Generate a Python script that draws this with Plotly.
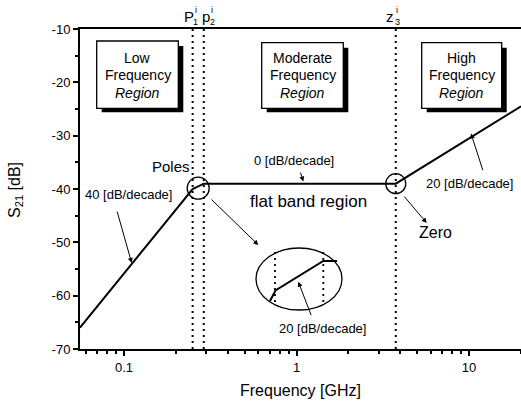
import math
import plotly.graph_objects as go

# ---- data ----
freq_ghz = [0.0556, 0.25, 0.29, 3.76, 20.0]
s21_db = [-66.0, -40.0, -39.0, -39.0, -24.5]
pole1_ghz = 0.25
pole2_ghz = 0.29
zero3_ghz = 3.76
flat_db = -39.0
x_tickvals = [0.1, 1, 10]
x_ticktext = ["0.1", "1", "10"]
y_tickvals = [-10, -20, -30, -40, -50, -60, -70]
y_ticktext = ["-10", "-20", "-30", "-40", "-50", "-60", "-70"]
region_labels = [["Low", "Frequency", "Region"],
                 ["Moderate", "Frequency", "Region"],
                 ["High", "Frequency", "Region"]]

FONT = "Liberation Sans, Arial, sans-serif"
W, H = 521, 401
ML, MR, MT, MB = 80, 0, 29, 52
PW, PH = W - ML - MR, H - MT - MB
XR = [math.log10(0.0556), math.log10(20)]
YR = [-70, -10]


def P(px, py):
    """reference pixel -> paper coords"""
    return (px - ML) / PW, (H - MB - py) / PH


def D(xd, yd):
    """data -> pixel"""
    px = ML + (math.log10(xd) - XR[0]) / (XR[1] - XR[0]) * PW
    py = H - MB - (yd - YR[0]) / (YR[1] - YR[0]) * PH
    return px, py


fig = go.Figure()
fig.add_trace(go.Scatter(x=freq_ghz, y=s21_db, mode="lines",
                         line=dict(color="black", width=2), showlegend=False,
                         hoverinfo="skip"))

shapes = []
annotations = []

# dotted vertical lines at poles / zero
for xv in (pole1_ghz, pole2_ghz, zero3_ghz):
    shapes.append(dict(type="line", xref="x", yref="y", x0=xv, x1=xv, y0=-70, y1=-10,
                       line=dict(color="black", width=2, dash="2px,4px")))


def circle(cx, cy, rx, ry, lw=1.3):
    x0, y0 = P(cx - rx, cy + ry)
    x1, y1 = P(cx + rx, cy - ry)
    shapes.append(dict(type="circle", xref="paper", yref="paper", x0=x0, x1=x1, y0=y0, y1=y1,
                       line=dict(color="black", width=lw)))


# small circles around poles and zero
pcx, pcy = D(math.sqrt(pole1_ghz * pole2_ghz), flat_db)
circle(pcx, pcy + 4.5, 11, 11)
zcx, zcy = D(zero3_ghz, flat_db)
circle(zcx, zcy, 10, 10)

# region boxes with shadows
boxes = [(96.7, 41, 178.3, 108.3), (261.7, 42.7, 343.3, 108.3), (421.7, 42.7, 501.7, 108.3)]
for (bx0, by0, bx1, by1), lines in zip(boxes, region_labels):
    sx0, sy0 = P(bx0 + 5, by0 + 5)
    sx1, sy1 = P(bx1 + 5, by1 + 4)
    shapes.append(dict(type="rect", xref="paper", yref="paper", x0=sx0, x1=sx1, y0=sy1, y1=sy0,
                       fillcolor="black", line=dict(width=0)))
    px0, py0 = P(bx0, by0)
    px1, py1 = P(bx1, by1)
    shapes.append(dict(type="rect", xref="paper", yref="paper", x0=px0, x1=px1, y0=py1, y1=py0,
                       fillcolor="white", line=dict(color="black", width=1.3)))
    cx = (bx0 + bx1) / 2
    for ly, t in zip((57.5, 75.5, 92.5), (lines[0], lines[1], "<i>" + lines[2] + "</i>")):
        ax_, ay_ = P(cx, ly)
        annotations.append(dict(xref="paper", yref="paper", x=ax_, y=ay_, text=t, showarrow=False,
                                xanchor="center", yanchor="middle",
                                font=dict(family=FONT, size=14, color="black")))

# inset ellipse (zoom of the pole region)
circle(299, 279, 43, 31)
for dx in (275, 323.3):
    a0x, a0y = P(dx, 252)
    a1x, a1y = P(dx, 304)
    shapes.append(dict(type="line", xref="paper", yref="paper", x0=a0x, x1=a1x, y0=a0y, y1=a1y,
                       line=dict(color="black", width=1.8, dash="2px,4px")))
pts = [P(270, 301), P(275.5, 290.5), P(323.3, 261), P(337, 261)]
path = "M " + " L ".join(f"{x:.5f},{y:.5f}" for x, y in pts)
shapes.append(dict(type="path", xref="paper", yref="paper", path=path,
                   line=dict(color="black", width=2)))


def text(px, py, t, size=13, **kw):
    x, y = P(px, py)
    d = dict(xref="paper", yref="paper", x=x, y=y, text=t, showarrow=False,
             xanchor="center", yanchor="middle",
             font=dict(family=FONT, size=size, color="black"))
    d.update(kw)
    annotations.append(d)


def arrow(tip, tail, head=2):
    x, y = P(*tip)
    annotations.append(dict(xref="paper", yref="paper", x=x, y=y, text="",
                            showarrow=True, arrowhead=head, arrowsize=1, arrowwidth=1,
                            arrowcolor="black", ax=tail[0] - tip[0], ay=tail[1] - tip[1],
                            standoff=0, startstandoff=0))


text(171, 166, "Poles", 15)
text(293.5, 160, "0 [dB/decade]", 13)
text(308.5, 201, "flat band region", 17)
text(128.5, 194, "40 [dB/decade]", 13)
text(469, 183, "20 [dB/decade]", 13)
text(435.3, 232.3, "Zero", 16)
text(322.5, 328.3, "20 [dB/decade]", 13)

arrow((131.7, 263), (116.7, 210))
arrow((471, 133.5), (483.3, 171.7))
arrow((303.3, 181.5), (300, 171))
arrow((298.3, 281.7), (311.7, 316.7))
arrow((426.7, 223), (403, 195))
arrow((258.3, 245), (210, 198))

# pole / zero labels above the plot
text(188.5, 17, "P", 15)
text(195.5, 10, "i", 9)
text(195.5, 22, "1", 9)
text(205.5, 17, "p", 15)
text(212, 10, "i", 9)
text(212, 22, "2", 9)
text(390, 17, "z", 15)
text(397, 10, "i", 9)
text(397, 22, "3", 9)

# axis titles
text(300, 390, "Frequency [GHz]", 16)
text(15, 190, "S<sub>21</sub> [dB]", 16, textangle=-90)

minor_x = [m * 10 ** e for e in (-2, -1, 0, 1) for m in range(2, 10)]

fig.update_layout(
    width=W, height=H, margin=dict(l=ML, r=MR, t=MT, b=MB),
    paper_bgcolor="white", plot_bgcolor="white",
    font=dict(family=FONT, color="black", size=13),
    shapes=shapes, annotations=annotations, showlegend=False,
    xaxis=dict(type="log", range=XR,
               tickvals=x_tickvals, ticktext=x_ticktext, ticks="outside", ticklen=5,
               tickwidth=2, tickcolor="black", showline=True, linewidth=2, linecolor="black",
               mirror=True, showgrid=False, zeroline=False,
               tickfont=dict(family=FONT, size=13, color="black"),
               minor=dict(tickvals=minor_x, ticks="outside", ticklen=3, tickwidth=1.5,
                          tickcolor="black", showgrid=False)),
    yaxis=dict(range=YR, tickvals=y_tickvals, ticktext=y_ticktext,
               ticks="outside", ticklen=5, tickwidth=2, tickcolor="black",
               showline=True, linewidth=2, linecolor="black", showgrid=False, zeroline=False,
               tickfont=dict(family=FONT, size=13, color="black"),
               minor=dict(dtick=5, ticks="outside", ticklen=3, tickwidth=1.5,
                          tickcolor="black", showgrid=False)),
)

fig.write_html("out.html")
